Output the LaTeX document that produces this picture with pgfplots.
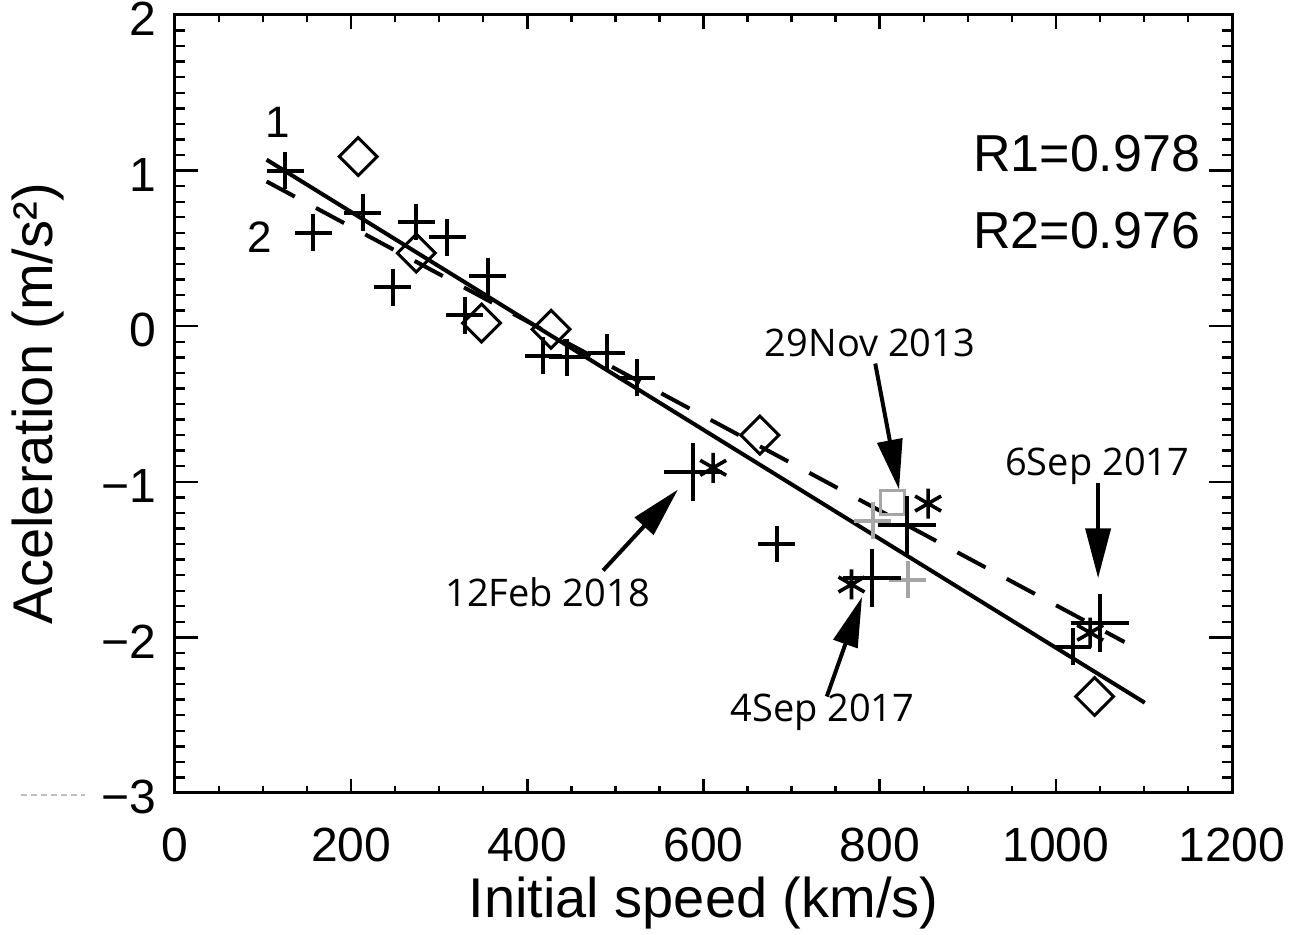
\documentclass[border=0pt]{standalone}
\usepackage{fontspec}
\setmainfont{Liberation Sans}
\newfontfamily\annfont{Open Sans}
\usepackage{pgfplots}
\pgfplotsset{compat=1.18}
\usetikzlibrary{arrows.meta}

\begin{document}
\begin{tikzpicture}
\path[use as bounding box] (-87.5pt,-71pt) rectangle (564pt,396.5pt);
\begin{axis}[
  at={(0,0)}, anchor=south west,
  scale only axis, width=528.5pt, height=389pt,
  xmin=0, xmax=1200, ymin=-3, ymax=2,
  xtick={0,200,400,600,800,1000,1200},
  xticklabels={0,200,400,600,800,1000,1200},
  minor x tick num=3,
  ytick={-3,-2,-1,0,1,2},
  yticklabels={−3,−2,−1,0,1,2},
  minor y tick num=9,
  tick align=inside,
  major tick length=11.5pt, minor tick length=5pt,
  axis line style={line width=1.5pt},
  every tick/.style={black, line width=1.2pt},
  xtick style={/pgfplots/major tick length=7pt, /pgfplots/minor tick length=3.5pt},
  ticklabel style={font=\fontsize{24}{24}\selectfont, inner sep=0pt},
  xticklabel style={anchor=north, yshift=-17.5pt},
  yticklabel style={anchor=east, xshift=-9pt, yshift=-2pt},
  clip=false,
]
% fit lines
\addplot[line width=2pt] coordinates {(104,1.07) (1101,-2.42)};
\addplot[line width=2pt, dash pattern=on 16pt off 12pt] coordinates {(104,0.93) (1078,-2.03)};

% small plus markers
\addplot[only marks, mark=+, mark size=9.2pt, mark options={line width=2pt}] coordinates {
(125,1.00) (157,0.60) (213,0.73) (274,0.67) (309,0.57) (247,0.25) (355,0.32)
(329,0.07) (418,-0.19) (445,-0.20) (490,-0.17) (524,-0.33) (683,-1.40) (1019,-2.06)
};
% faded markers
\addplot[only marks, mark=+, mark size=9.2pt, gray!70, mark options={line width=2pt}] coordinates {
(792,-1.25) (832,-1.63)
};
\addplot[only marks, mark=square, mark size=6pt, gray!70, mark options={line width=1.5pt, fill=none}] coordinates {
(815,-1.13)
};
% diamonds
\addplot[only marks, mark=square, mark size=6.7pt, mark options={rotate=45, line width=1.5pt, fill=none}] coordinates {
(208,1.09) (274,0.47) (348,0.02) (427,-0.02) (664,-0.70) (1044,-2.38)
};
% event big plus
\addplot[only marks, mark=+, mark size=14.5pt, mark options={line width=2pt}] coordinates {
(588,-0.94) (791,-1.62) (831,-1.28) (1050,-1.91)
};
% asterisks
\addplot[only marks, mark=asterisk, mark size=7.5pt, mark options={line width=1.8pt}] coordinates {
(611,-0.91) (768,-1.66) (855,-1.14) (1039,-1.97)
};

% line labels
\node[font=\fontsize{22}{22}\selectfont] at (axis cs:117,1.31) {1};
\node[font=\fontsize{22}{22}\selectfont] at (axis cs:96,0.57) {2};
% R values
\node[font=\fontsize{26}{26}\selectfont] at (axis cs:1035,1.107) {R1=0.978};
\node[font=\fontsize{26}{26}\selectfont] at (axis cs:1035,0.612) {R2=0.976};

% annotations
\tikzset{ann/.style={line width=2pt, -{Triangle[length=25pt,width=12.5pt]}}}
\draw[ann] (axis cs:486,-1.57) -- (axis cs:571,-1.05);
\node[font=\annfont\fontsize{19}{19}\selectfont] at (axis cs:423,-1.71) {12Feb 2018};
\draw[ann] (axis cs:740,-2.38) -- (axis cs:780,-1.74);
\node[font=\annfont\fontsize{19}{19}\selectfont] at (axis cs:735,-2.48) {4Sep 2017};
\draw[ann] (axis cs:795,-0.24) -- (axis cs:822,-1.05);
\node[font=\annfont\fontsize{19}{19}\selectfont] at (axis cs:789,-0.11) {29Nov 2013};
\draw[ann] (axis cs:1048,-1.01) -- (axis cs:1048,-1.62);
\node[font=\annfont\fontsize{19}{19}\selectfont] at (axis cs:1047,-0.90) {6Sep 2017};
\end{axis}
\node[font=\fontsize{28}{28}\selectfont] at (264.25pt,-55pt) {Initial speed (km/s)};
\node[font=\fontsize{28}{28}\selectfont, rotate=90] at (-68.5pt,194.5pt) {Aceleration (m/s²)};
\draw[gray!50, line width=1pt, dash pattern=on 3pt off 2pt] (-77pt,-1pt) -- (-45pt,-1pt);
\end{tikzpicture}
\end{document}
